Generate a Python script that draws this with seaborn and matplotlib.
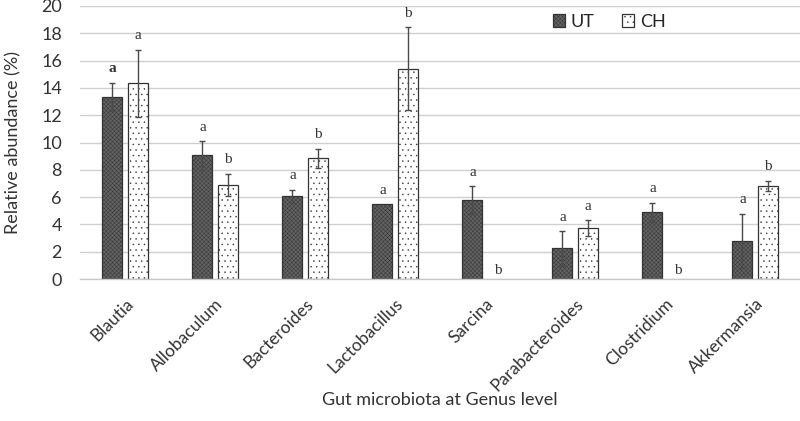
import matplotlib
matplotlib.use("Agg")
import matplotlib.pyplot as plt
import seaborn as sns
import pandas as pd
import numpy as np

genera = ["Blautia", "Allobaculum", "Bacteroides", "Lactobacillus",
          "Sarcina", "Parabacteroides", "Clostridium", "Akkermansia"]
ut_values = [13.35, 9.05, 6.05, 5.5, 5.78, 2.25, 4.9, 2.8]
ut_errors = [1.03, 1.05, 0.5, 0.0, 1.03, 1.27, 0.7, 2.0]
ch_values = [14.35, 6.9, 8.85, 15.4, 0.0, 3.72, 0.0, 6.83]
ch_errors = [2.45, 0.83, 0.7, 3.05, 0.0, 0.6, 0.0, 0.37]
ut_letters = ["a", "a", "a", "a", "a", "a", "a", "a"]
ch_letters = ["a", "b", "b", "b", "b", "a", "b", "b"]
groups = ["UT", "CH"]

sns.set_theme(style="white")
plt.rcParams["font.family"] = ["Lato", "DejaVu Sans"]
plt.rcParams["hatch.linewidth"] = 0.3

df = pd.DataFrame({
    "Genus": genera * 2,
    "Group": ["UT"] * len(genera) + ["CH"] * len(genera),
    "Value": ut_values + ch_values,
})

fig = plt.figure(figsize=(8.0, 4.21), dpi=100)
ax = fig.add_axes([0.1, 0.337, 0.9, 0.649])

sns.barplot(data=df, x="Genus", y="Value", hue="Group", hue_order=groups,
            order=genera, width=0.556, gap=0.2, errorbar=None,
            palette={"UT": "#626262", "CH": "#ffffff"},
            edgecolor="#333333", linewidth=0.9, ax=ax, legend=True)

hatches = {"UT": "xxxxxxxx", "CH": "..."}
errs = {"UT": ut_errors, "CH": ch_errors}
letters = {"UT": ut_letters, "CH": ch_letters}
vals = {"UT": ut_values, "CH": ch_values}
for cont, g in zip(ax.containers, groups):
    xs = []
    for bar in cont:
        bar.set_hatch(hatches[g])
        xs.append(bar.get_x() + bar.get_width() / 2)
        if bar.get_height() == 0:
            bar.set_visible(False)
    xs = np.array(xs)
    v = np.array(vals[g])
    e = np.array(errs[g])
    mask = e > 0
    ax.errorbar(xs[mask], v[mask], yerr=e[mask], fmt="none",
                ecolor="#4a4a4a", elinewidth=1.0, capsize=2.5, capthick=1.0,
                zorder=5)
    for i, (x, val, err, lab) in enumerate(zip(xs, v, e, letters[g])):
        top = val + err
        if val == 0:
            ax.text(x, 0.65, lab, ha="center", va="center", fontsize=11,
                    family="Liberation Serif", color="#333333")
        else:
            weight = "bold" if (g == "UT" and i == 0) else "normal"
            ax.annotate(lab, (x, top), xytext=(0, 10), textcoords="offset points",
                        ha="center", va="center", fontsize=11,
                        family="Liberation Serif", color="#333333",
                        fontweight=weight)

ax.set_ylim(0, 20)
ax.set_xlim(-0.5, len(genera) - 0.5)
ax.set_yticks(np.arange(0, 21, 2))
ax.yaxis.grid(True, color="#d0d0d0", linewidth=1.0)
ax.set_axisbelow(True)
for s in ["top", "right", "left"]:
    ax.spines[s].set_visible(False)
ax.spines["bottom"].set_color("#c8c8c8")
ax.spines["bottom"].set_linewidth(1.0)
ax.tick_params(axis="both", length=0, labelsize=13, colors="#333333")
ax.tick_params(axis="y", pad=13)
ax.set_xticks(range(len(genera)))
ax.set_xticklabels(genera, rotation=45, ha="right", rotation_mode="anchor",
                   fontsize=12.5)
ax.tick_params(axis="x", pad=12)
ax.set_ylabel("Relative abundance (%)", fontsize=13, color="#333333",
              labelpad=14)
ax.set_xlabel("Gut microbiota at Genus level", fontsize=13, color="#333333",
              va="center")
ax.xaxis.set_label_coords(0.5, -0.443)

handles, labels = ax.get_legend_handles_labels()
for h, g in zip(handles, labels):
    h.set_hatch(hatches[g])
ax.legend(handles, labels, ncol=2, frameon=False, loc="center",
          bbox_to_anchor=(0.735, 0.941), fontsize=13, handlelength=0.7,
          handleheight=0.7, columnspacing=1.5, handletextpad=0.3)

fig.savefig("out.png", dpi=100)
